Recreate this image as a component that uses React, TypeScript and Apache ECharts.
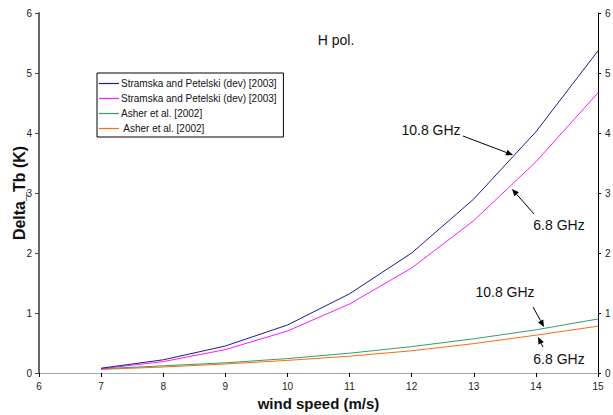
import React, { useEffect, useRef } from "react";
import * as echarts from "echarts";

const windSpeed = [7, 8, 9, 10, 11, 12, 13, 14, 15];
const stramska108 = [0.08, 0.22, 0.45, 0.8, 1.32, 2.0, 2.9, 4.02, 5.37];
const stramska68 = [0.07, 0.19, 0.39, 0.7, 1.15, 1.75, 2.54, 3.52, 4.67];
const asher108 = [0.07, 0.12, 0.17, 0.24, 0.33, 0.44, 0.57, 0.72, 0.9];
const asher68 = [0.06, 0.1, 0.15, 0.21, 0.28, 0.37, 0.49, 0.63, 0.78];
const seriesNames = [
  "Stramska and Petelski (dev) [2003]",
  "Stramska and Petelski (dev) [2003] ",
  "Asher et al. [2002]",
  " Asher et al. [2002]",
];
const seriesColors = ["#1c1c8a", "#ff1aff", "#3a9a6a", "#ff6a10"];

const FONT = "Liberation Sans, Arial, sans-serif";

function arrow(x1: number, y1: number, x2: number, y2: number) {
  const dx = x2 - x1, dy = y2 - y1;
  const L = Math.hypot(dx, dy);
  const ux = dx / L, uy = dy / L;
  const hl = 7, hw = 3;
  const bx = x2 - ux * hl, by = y2 - uy * hl;
  return [
    { type: "line", shape: { x1, y1, x2: bx, y2: by }, style: { stroke: "#000", lineWidth: 1 } },
    {
      type: "polygon",
      shape: { points: [[x2, y2], [bx - uy * hw, by + ux * hw], [bx + uy * hw, by - ux * hw]] },
      style: { fill: "#000" },
    },
  ];
}

function label(text: string, x: number, y: number, size = 14) {
  return {
    type: "text",
    x,
    y,
    style: { text, fontSize: size, fontFamily: FONT, fill: "#111", textAlign: "center", textVerticalAlign: "middle" },
  };
}

export default function App() {
  const ref = useRef<HTMLDivElement>(null);
  useEffect(() => {
    const chart = echarts.init(ref.current!, null, { renderer: "svg" });
    const data = [stramska108, stramska68, asher108, asher68];
    const axisLabel = { fontSize: 10, color: "#222", fontFamily: FONT };
    chart.setOption({
      animation: false,
      backgroundColor: "#fff",
      grid: { left: 39, right: 15, top: 13, bottom: 42, containLabel: false, outerBoundsMode: "none" },
      legend: {
        orient: "vertical",
        left: 97,
        top: 73,
        padding: [5, 4, 3, 2],
        itemGap: 4,
        itemWidth: 20,
        itemHeight: 1.2,
        icon: "rect",
        borderColor: "#000",
        borderWidth: 1,
        borderRadius: 0,
        backgroundColor: "#fff",
        textStyle: { fontSize: 10, fontFamily: FONT, color: "#111", lineHeight: 11, padding: [0, 0, 0, -3] },
        data: seriesNames,
      },
      xAxis: [
        {
          type: "value",
          min: 6,
          max: 15,
          interval: 1,
          name: "wind speed (m/s)",
          nameLocation: "middle",
          nameGap: 23,
          nameMoveOverlap: false,
          nameTextStyle: { fontSize: 15, fontWeight: "bold", fontFamily: FONT, color: "#111" },
          axisLine: { show: true, lineStyle: { color: "#000", width: 1 } },
          axisTick: { show: true, length: 4, lineStyle: { color: "#000" } },
          axisLabel: { ...axisLabel, margin: 8 },
          splitLine: { show: false },
        },
        {
          type: "value",
          position: "top",
          min: 6,
          max: 15,
          axisLine: { show: true, lineStyle: { color: "#aaa", width: 1 } },
          axisTick: { show: false },
          axisLabel: { show: false },
          splitLine: { show: false },
        },
      ],
      yAxis: [
        {
          type: "value",
          min: 0,
          max: 6,
          interval: 1,
          position: "left",
          name: "Delta_Tb (K)",
          nameLocation: "middle",
          nameGap: 12,
          nameMoveOverlap: false,
          nameTextStyle: { fontSize: 16, fontWeight: "bold", fontFamily: FONT, color: "#111" },
          axisLine: { show: true, lineStyle: { color: "#666", width: 2 } },
          axisTick: { show: true, length: 4, lineStyle: { color: "#444" } },
          axisLabel: { ...axisLabel, margin: 7 },
          splitLine: { show: false },
        },
        {
          type: "value",
          min: 0,
          max: 6,
          interval: 1,
          position: "right",
          axisLine: { show: true, lineStyle: { color: "#000", width: 1 } },
          axisTick: { show: true, length: 3, lineStyle: { color: "#000" } },
          axisLabel: { ...axisLabel, margin: 7 },
          splitLine: { show: false },
        },
      ],
      series: data.map((d, i) => ({
        name: seriesNames[i],
        type: "line",
        symbol: "none",
        color: seriesColors[i],
        lineStyle: { width: 1, color: seriesColors[i] },
        data: windSpeed.map((x, j) => [x, d[j]]),
        z: 10 - i,
      })),
      graphic: [
        label("H pol.", 336, 40, 14),
        label("10.8 GHz", 431, 130, 14),
        ...arrow(463, 136, 513, 155),
        label("6.8 GHz", 559, 225, 14),
        ...arrow(534, 214, 512, 189),
        label("10.8 GHz", 505, 292, 14),
        ...arrow(533, 307, 544, 327),
        label("6.8 GHz", 559, 359, 14),
        ...arrow(543, 347, 538, 337),
      ],
    });
    return () => chart.dispose();
  }, []);
  return <div ref={ref} style={{ width: 613, height: 415, position: "absolute", left: 0, top: 0 }} />;
}
